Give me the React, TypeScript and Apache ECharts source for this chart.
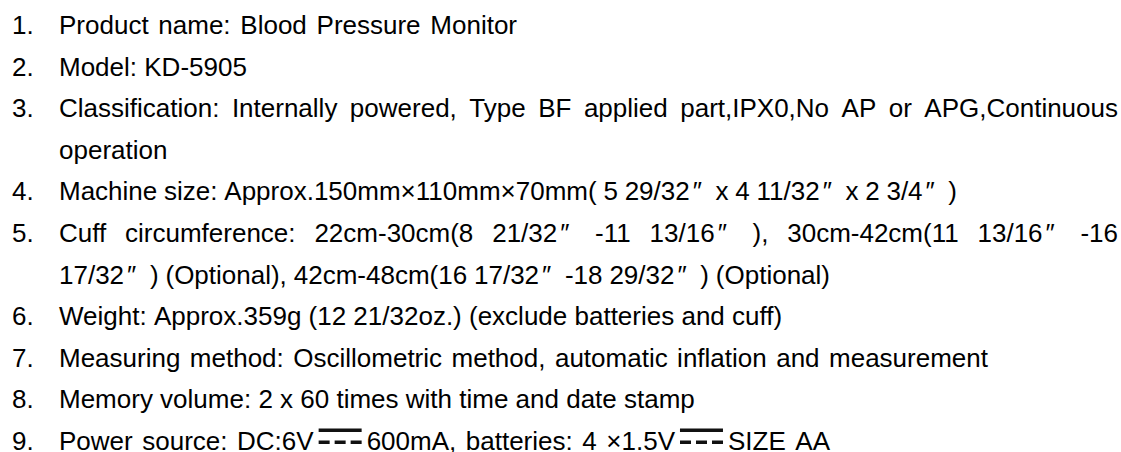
import React, { useEffect, useRef } from "react";
import * as echarts from "echarts";

const itemNumbers: string[] = ["1.", "2.", "3.", "", "4.", "5.", "", "6.", "7.", "8.", "9."];
const itemTexts: string[] = [
  "Product name: Blood Pressure Monitor",
  "Model: KD-5905",
  "Classification: Internally powered, Type BF applied part,IPX0,No AP or APG,Continuous",
  "operation",
  "Machine size: Approx.150mm×110mm×70mm( 5 29/32″ x 4 11/32″ x 2 3/4″ )",
  "Cuff circumference: 22cm-30cm(8 21/32″ -11 13/16″ ), 30cm-42cm(11 13/16″ -16",
  "17/32″ ) (Optional), 42cm-48cm(16 17/32″ -18 29/32″ ) (Optional)",
  "Weight: Approx.359g (12 21/32oz.) (exclude batteries and cuff)",
  "Measuring method: Oscillometric method, automatic inflation and measurement",
  "Memory volume: 2 x 60 times with time and date stamp",
  "Power source: DC:6V⎓600mA, batteries: 4 ×1.5V⎓SIZE AA",
];
// right edge each line is spread to (0 = natural word spacing)
const lineRightEdges: number[] = [517, 0, 1118, 0, 957, 1118, 830, 0, 988, 0, 830];

const FS = 26;
const FONT = `${FS}px 'Liberation Sans', Arial, sans-serif`;
const NUM_X = 12;
const TEXT_X = 59;
const TOP_Y = 25;
const LINE_H = 41.6;
const DP_W = 19;
const DC_W = 53;
const INK = "#000";

type Piece = { kind: "t" | "dp" | "dc"; s: string };

function splitPieces(word: string): Piece[] {
  const out: Piece[] = [];
  let buf = "";
  for (const ch of word) {
    if (ch === "″" || ch === "⎓") {
      if (buf) out.push({ kind: "t", s: buf });
      buf = "";
      out.push({ kind: ch === "″" ? "dp" : "dc", s: ch });
    } else buf += ch;
  }
  if (buf) out.push({ kind: "t", s: buf });
  return out;
}

function buildElements(): any[] {
  const ctx = document.createElement("canvas").getContext("2d")!;
  ctx.font = FONT;
  const pw = (p: Piece) => (p.kind === "t" ? ctx.measureText(p.s).width : p.kind === "dp" ? DP_W : DC_W);
  const spaceW = ctx.measureText(" ").width;
  const els: any[] = [];
  const txt = (x: number, y: number, s: string) => ({
    type: "text",
    x,
    y,
    silent: true,
    style: { text: s, font: FONT, fill: INK, verticalAlign: "middle", align: "left" },
  });

  itemTexts.forEach((line, i) => {
    const yc = TOP_Y + i * LINE_H;
    if (itemNumbers[i]) els.push(txt(NUM_X, yc, itemNumbers[i]));
    const words = line.split(" ").map(splitPieces);
    const widths = words.map((w) => w.reduce((a, p) => a + pw(p), 0));
    let gap = spaceW;
    const right = lineRightEdges[i];
    if (right > 0 && words.length > 1) {
      const sum = widths.reduce((a, b) => a + b, 0);
      gap = (right - TEXT_X - sum) / (words.length - 1);
    }
    let x = TEXT_X;
    words.forEach((w, wi) => {
      w.forEach((p) => {
        if (p.kind === "t") {
          if (p.s) els.push(txt(x, yc, p.s));
        } else if (p.kind === "dp") {
          els.push(txt(x + 3, yc, "″"));
        } else {
          els.push({
            type: "rect",
            silent: true,
            shape: { x: x + 5, y: yc - 12.5, width: 43, height: 3.5 },
            style: { fill: "#111" },
          });
          [0, 16, 32].forEach((dx) =>
            els.push({
              type: "rect",
              silent: true,
              shape: { x: x + 5 + dx, y: yc - 0.5, width: 11, height: 3.5 },
              style: { fill: "#111" },
            })
          );
        }
        x += pw(p);
      });
      if (wi < words.length - 1) x += gap;
    });
  });
  return els;
}

export default function App() {
  const ref = useRef<HTMLDivElement>(null);
  useEffect(() => {
    document.body.style.margin = "0";
    if (!ref.current) return;
    const chart = echarts.init(ref.current, undefined, { renderer: "svg" });
    chart.setOption({
      animation: false,
      backgroundColor: "#ffffff",
      graphic: { elements: buildElements() },
    });
    return () => chart.dispose();
  }, []);
  return <div ref={ref} style={{ width: 1121, height: 452 }} />;
}
